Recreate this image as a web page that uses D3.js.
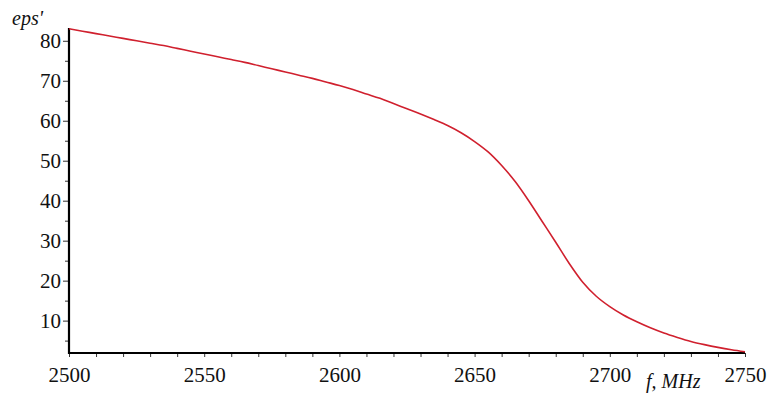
<!DOCTYPE html>
<html><head><meta charset="utf-8">
<script src="https://cdn.jsdelivr.net/npm/d3@7"></script>
<style>body{margin:0;background:#fff}svg{display:block}text{font-family:"Liberation Serif","Times New Roman",Times,serif}</style>
</head><body><svg id="c" width="770" height="394"></svg>
<script>
const freq = [2500,2505,2510,2515,2520,2525,2530,2535,2540,2545,2550,2555,2560,2565,2570,2575,2580,2585,2590,2595,2600,2605,2610,2615,2620,2625,2630,2635,2640,2645,2650,2655,2660,2665,2670,2675,2680,2685,2690,2695,2700,2705,2710,2715,2720,2725,2730,2735,2740,2745,2750];
const eps = [83.0,82.4,81.8,81.2,80.6,80.0,79.4,78.8,78.1,77.4,76.7,76.0,75.3,74.6,73.8,73.0,72.2,71.4,70.6,69.7,68.8,67.8,66.7,65.6,64.3,63.0,61.7,60.3,58.8,57.0,54.8,52.2,48.8,44.8,40.0,34.8,29.6,24.3,19.6,16.1,13.5,11.4,9.7,8.2,6.9,5.8,4.8,4.0,3.3,2.7,2.2];
const xTicks = [2500,2550,2600,2650,2700,2750];
const yTicks = [10,20,30,40,50,60,70,80];
const xLabel = "f, MHz";
const yLabel = "eps'";

const svg = d3.select("#c");
const x = d3.scaleLinear().domain([2500,2750]).range([69,745]);
const y = d3.scaleLinear().domain([1.9,83.2]).range([353,28]);
const font = "Liberation Serif";

// x axis minor/major tick marks
const xa = svg.append("g").attr("transform","translate(0,353)");
xa.call(d3.axisBottom(x).tickValues(d3.range(2500,2751,10)).tickSize(4).tickFormat(""));
xa.select(".domain").remove();
xa.selectAll(".tick line").attr("stroke","#000").attr("stroke-width",0.8);
const xl = svg.append("g").attr("transform","translate(0,353)");
xl.call(d3.axisBottom(x).tickValues(xTicks).tickSize(0).tickPadding(14).tickFormat(d3.format("d")));
xl.select(".domain").remove();
xl.selectAll("text").attr("font-family",font).attr("font-size",21).attr("fill","#111");

// y axis
const ya = svg.append("g").attr("transform","translate(69,0)");
ya.call(d3.axisLeft(y).tickValues(d3.range(5,81,5).filter(v=>v%10!==0)).tickSize(4).tickFormat(""));
ya.select(".domain").remove();
ya.selectAll(".tick line").attr("stroke","#000").attr("stroke-width",0.8);
const yl = svg.append("g").attr("transform","translate(69,0)");
yl.call(d3.axisLeft(y).tickValues(yTicks).tickSize(6).tickPadding(2).tickFormat(d3.format("d")));
yl.select(".domain").remove();
yl.selectAll(".tick line").attr("stroke","#000").attr("stroke-width",0.8);
yl.selectAll("text").attr("font-family",font).attr("font-size",21).attr("fill","#111");

// axis lines
svg.append("line").attr("x1",x(2500)).attr("x2",x(2750)).attr("y1",353).attr("y2",353).attr("stroke","#000").attr("stroke-width",2.2);
svg.append("line").attr("x1",69).attr("x2",69).attr("y1",28).attr("y2",354).attr("stroke","#000").attr("stroke-width",2.2);

// curve
const data = freq.map((f,i)=>({f, v: eps[i]}));
svg.append("path").datum(data)
  .attr("d", d3.line().x(d=>x(d.f)).y(d=>y(d.v)).curve(d3.curveMonotoneX))
  .attr("fill","none").attr("stroke","#d0202e").attr("stroke-width",1.6);

// labels
svg.append("text").attr("x",12).attr("y",25).attr("font-family",font).attr("font-style","italic").attr("font-size",20).attr("fill","#111").text(yLabel);
svg.append("text").attr("x",646).attr("y",388).attr("font-family",font).attr("font-style","italic").attr("font-size",20).attr("fill","#111").text(xLabel);
</script></body></html>
